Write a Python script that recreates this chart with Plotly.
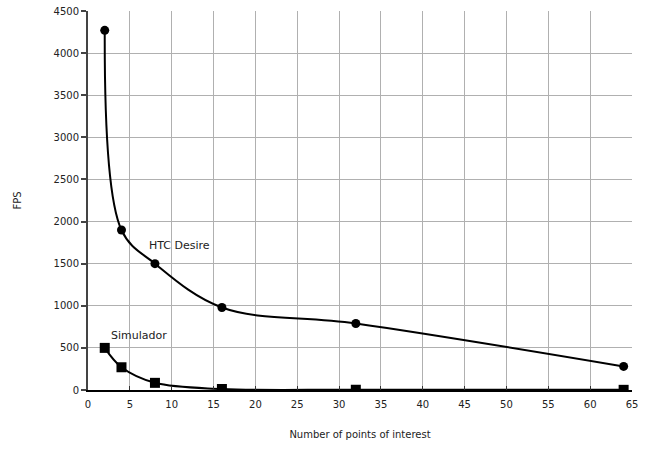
import plotly.graph_objects as go

points = [2, 4, 8, 16, 32, 64]
htc_desire = [4270, 1900, 1500, 980, 790, 280]
simulador = [500, 270, 85, 12, 3, 2]
x_ticks = list(range(0, 70, 5))
y_ticks = list(range(0, 5000, 500))

fig = go.Figure()
fig.add_trace(go.Scatter(x=points, y=htc_desire, mode="lines+markers", name="HTC Desire",
                         line=dict(color="black", width=2, shape="spline", smoothing=1),
                         marker=dict(symbol="circle", size=9, color="black")))
fig.add_trace(go.Scatter(x=points, y=simulador, mode="lines+markers", name="Simulador",
                         line=dict(color="black", width=2, shape="spline", smoothing=1),
                         marker=dict(symbol="square", size=10, color="black")))

fig.add_annotation(x=7, y=1710, text="HTC Desire", showarrow=False, xanchor="left",
                   font=dict(size=11, color="#222"))
fig.add_annotation(x=2.5, y=650, text="Simulador", showarrow=False, xanchor="left",
                   font=dict(size=11, color="#222"))

fig.update_layout(
    width=649, height=452,
    margin=dict(l=88, r=17, t=11, b=62, autoexpand=False),
    paper_bgcolor="white", plot_bgcolor="white",
    showlegend=False,
    font=dict(family="DejaVu Sans", size=10, color="#222"),
    xaxis=dict(range=[0, 65], tickvals=x_ticks, showgrid=True, gridcolor="#b0b0b0", gridwidth=1,
               zeroline=False, showline=True, linecolor="black", linewidth=2,
               ticks="inside", ticklen=4, tickcolor="#333", tickwidth=1, ticklabelstandoff=4,
               title=dict(text="Number of points of interest", font=dict(size=10), standoff=22)),
    yaxis=dict(range=[0, 4500], tickvals=y_ticks, showgrid=True, gridcolor="#b0b0b0", gridwidth=1,
               zeroline=False,
               showline=True, linecolor="#444", linewidth=2, ticks="outside", ticklen=5,
               tickcolor="#444", tickwidth=2,
               title=dict(text="FPS", font=dict(size=10), standoff=30)),
)
fig.write_html("out.html", config={"displayModeBar": False},
               post_script="document.body.style.margin='0';")
